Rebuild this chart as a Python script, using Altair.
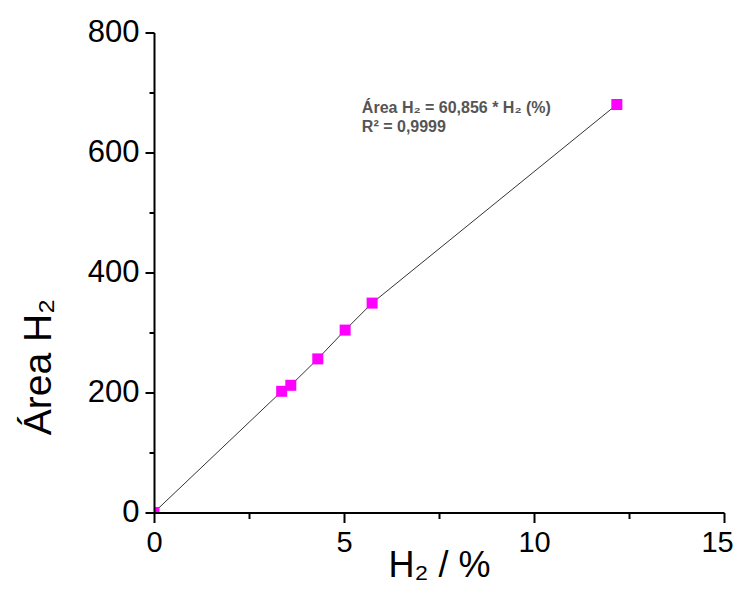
import altair as alt
import pandas as pd

# Data
h2_percent = [0.0, 3.36, 3.60, 4.31, 5.03, 5.74, 12.18]
area_h2 = [0.0, 202, 212, 256, 304, 349, 680]

x_major = [0, 5, 10, 15]
x_minor = [2.5, 7.5, 12.5]
y_major = [0, 200, 400, 600, 800]
y_minor = [100, 300, 500, 700]

eq_line1 = "Área H₂ = 60,856 * H₂ (%)"
eq_line2 = "R² = 0,9999"

df = pd.DataFrame({"x": h2_percent, "y": area_h2})

FONT = "Liberation Sans"
xscale = alt.Scale(domain=[0, 15], nice=False, zero=False)
yscale = alt.Scale(domain=[0, 800], nice=False, zero=False)

major_x = alt.Axis(values=x_major, orient="bottom", grid=False, tickSize=10, tickWidth=2,
                   tickColor="black", domainColor="black", domainWidth=2,
                   labelFont=FONT, labelFontSize=29, labelColor="black", labelPadding=6,
                   labelFlush=False, labelOverlap=False,
                   labelOffset=alt.ExprRef("datum.value == 15 ? -7 : 0"),
                   title="H₂ / %", titleFont=FONT, titleFontSize=36, titleFontWeight="normal",
                   titleColor="black", titleBaseline="alphabetic", titleY=64, zindex=2)
major_y = alt.Axis(values=y_major, orient="left", grid=False, tickSize=9, tickWidth=2,
                   tickColor="black", domainColor="black", domainWidth=2,
                   labelFont=FONT, labelFontSize=31, labelColor="black", labelPadding=6,
                   labelFlush=False, labelOverlap=False,
                   title="Área H₂", titleFont=FONT, titleFontSize=39, titleFontWeight="normal",
                   titleColor="black", titleAngle=270, titleBaseline="alphabetic",
                   titleAlign="center", titleX=-104, titleY=334, zindex=2)
minor_x = alt.Axis(values=x_minor, orient="bottom", grid=False, tickSize=6, tickWidth=2,
                   tickColor="black", domain=False, labels=False, title=None, zindex=2)
minor_y = alt.Axis(values=y_minor, orient="left", grid=False, tickSize=5, tickWidth=2,
                   tickColor="black", domain=False, labels=False, title=None, zindex=2)

base = alt.Chart(df)

minor = base.mark_point(opacity=0).encode(
    x=alt.X("x:Q", scale=xscale, axis=minor_x),
    y=alt.Y("y:Q", scale=yscale, axis=minor_y),
)

line = base.mark_line(color="#333333", strokeWidth=1).encode(
    x=alt.X("x:Q", scale=xscale, axis=major_x),
    y=alt.Y("y:Q", scale=yscale, axis=major_y),
)

points = base.mark_square(size=121, color="#FF00FF", opacity=1, clip=True).encode(
    x=alt.X("x:Q", scale=xscale, axis=None),
    y=alt.Y("y:Q", scale=yscale, axis=None),
)

ann_style = dict(align="left", baseline="alphabetic", font=FONT, fontSize=16,
                 fontWeight="bold", color="#555555")
ann1 = alt.Chart().mark_text(**ann_style).encode(
    x=alt.XDatum(5.47, scale=xscale, axis=None),
    y=alt.YDatum(666, scale=yscale, axis=None),
    text=alt.value(eq_line1))
ann2 = alt.Chart().mark_text(**ann_style).encode(
    x=alt.XDatum(5.47, scale=xscale, axis=None),
    y=alt.YDatum(634, scale=yscale, axis=None),
    text=alt.value(eq_line2))

chart = alt.layer(minor, line, points, ann1, ann2).resolve_axis(
    x="independent", y="independent"
).properties(
    width=570, height=480,
    background="white",
    autosize=alt.AutoSizeParams(type="none"),
    padding={"left": 146, "top": 24.5, "right": 14, "bottom": 77},
).configure_view(stroke=None)

chart.save("out.html", embed_options={"renderer": "svg", "actions": False})
